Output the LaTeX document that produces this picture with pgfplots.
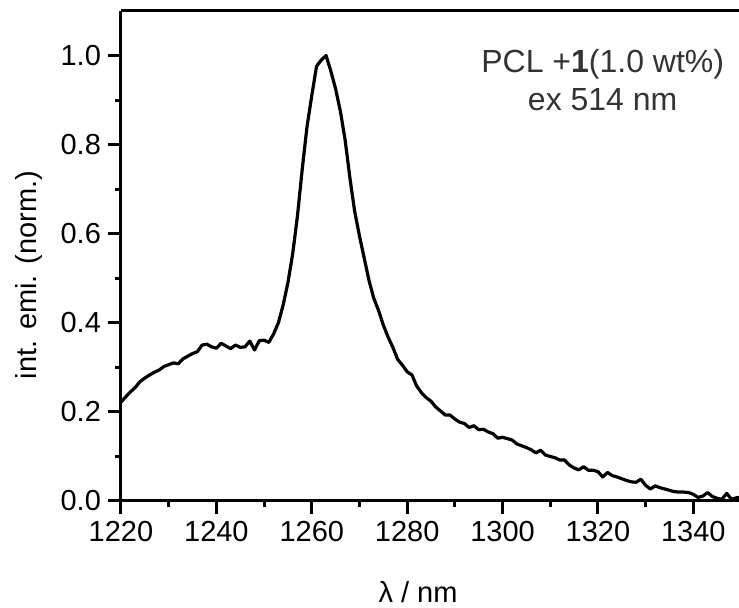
\documentclass[border=0pt]{standalone}
\usepackage{fontspec}
\setmainfont{Liberation Sans}
\usepackage{pgfplots}
\pgfplotsset{compat=1.18}
\begin{document}
\begin{tikzpicture}
\begin{axis}[
  scale only axis,
  width=310pt, height=245pt,
  xmin=1220, xmax=1350, ymin=0, ymax=1.1,
  axis x line*=bottom, axis y line*=left,
  axis line style={-, line width=1.5pt},
  tick align=outside,
  major tick length=6.5pt, minor tick length=3pt,
  every tick/.style={line width=1.5pt, black},
  xtick={1220,1240,...,1340}, minor x tick num=1,
  ytick={0,0.2,...,1.0}, minor y tick num=1,
  /pgf/number format/assume math mode=true,
  tick label style={font=\fontsize{14.5}{17}\selectfont},
  xticklabel style={/pgf/number format/1000 sep={}},
  yticklabel style={/pgf/number format/.cd, fixed, fixed zerofill, precision=1},
  label style={font=\fontsize{14.5}{17}\selectfont},
  xlabel={λ / nm},
  ylabel={int. emi. (norm.)},
  xlabel style={at={(axis description cs:0.479,-0.186)}, anchor=center},
  ylabel style={at={(axis description cs:-0.148,0.461)}, anchor=center},
  clip=false,
]
\addplot[black, line width=1.6pt, line join=round] coordinates {
(1220,0.222) (1221,0.234) (1222,0.245) (1223,0.255) (1224,0.268) (1225,0.276)
(1226,0.283) (1227,0.289) (1228,0.294) (1229,0.302) (1230,0.306) (1231,0.310)
(1232,0.308) (1233,0.319) (1234,0.325) (1235,0.331) (1236,0.335) (1237,0.350)
(1238,0.352) (1239,0.346) (1240,0.343) (1241,0.354) (1242,0.348) (1243,0.342)
(1244,0.350) (1245,0.345) (1246,0.346) (1247,0.359) (1248,0.339) (1249,0.360)
(1250,0.361) (1251,0.356) (1252,0.375) (1253,0.400) (1254,0.440) (1255,0.490)
(1256,0.555) (1257,0.640) (1258,0.745) (1259,0.840) (1260,0.910) (1261,0.976)
(1262,0.990) (1263,1.000) (1264,0.965) (1265,0.925) (1266,0.875) (1267,0.810)
(1268,0.725) (1269,0.650) (1270,0.595) (1271,0.545) (1272,0.495) (1273,0.455)
(1274,0.428) (1275,0.395) (1276,0.368) (1277,0.345) (1278,0.318) (1279,0.305)
(1280,0.290) (1281,0.283) (1282,0.258) (1283,0.243) (1284,0.232) (1285,0.224)
(1286,0.211) (1287,0.202) (1288,0.193) (1289,0.193) (1290,0.184) (1291,0.177)
(1292,0.174) (1293,0.165) (1294,0.169) (1295,0.160) (1296,0.161) (1297,0.155)
(1298,0.151) (1299,0.141) (1300,0.143) (1301,0.140) (1302,0.137) (1303,0.128)
(1304,0.124) (1305,0.120) (1306,0.115) (1307,0.108) (1308,0.114) (1309,0.103)
(1310,0.100) (1311,0.097) (1312,0.092) (1313,0.092) (1314,0.081) (1315,0.074)
(1316,0.070) (1317,0.077) (1318,0.069) (1319,0.069) (1320,0.066) (1321,0.054)
(1322,0.064) (1323,0.057) (1324,0.054) (1325,0.050) (1326,0.046) (1327,0.043)
(1328,0.042) (1329,0.049) (1330,0.035) (1331,0.027) (1332,0.034) (1333,0.030)
(1334,0.027) (1335,0.024) (1336,0.021) (1337,0.020) (1338,0.020) (1339,0.019)
(1340,0.015) (1341,0.008) (1342,0.011) (1343,0.019) (1344,0.010) (1345,0.006)
(1346,0.004) (1347,0.017) (1348,0.004) (1349,0.007) (1350,0.009)
};
\draw[line width=1.5pt] (rel axis cs:0,1) -- (rel axis cs:1,1);
\node[align=center, text=black!80, font=\fontsize{16}{19}\selectfont] at (axis cs:1321,0.944) {PCL +\textbf{1}(1.0 wt\%)\\ex 514 nm};
\end{axis}
\pgfresetboundingbox
\path (-60.5pt,-53.5pt) rectangle (309pt,250.5pt);
\end{tikzpicture}
\end{document}
